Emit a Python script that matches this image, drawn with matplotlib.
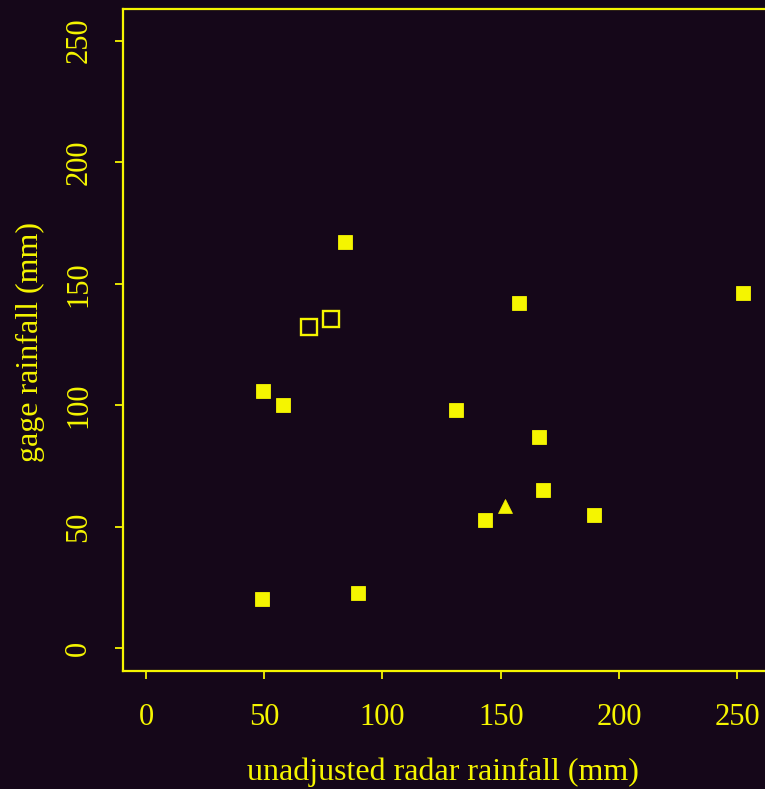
import matplotlib
matplotlib.use("Agg")
import matplotlib.pyplot as plt

# data
filled_x = [49.0, 49.5, 57.9, 89.6, 84.1, 131.3, 157.6, 166.2, 167.7, 143.2, 189.3, 252.6]
filled_y = [20.3, 105.9, 100.1, 22.7, 167.3, 98.1, 142.1, 86.8, 65.1, 52.7, 55.0, 146.1]
open_x = [68.9, 78.2]
open_y = [132.3, 135.5]
tri_x = [152.0]
tri_y = [58.5]
xticks = [0, 50, 100, 150, 200, 250]
yticks = [0, 50, 100, 150, 200, 250]

BG = "#150719"
YEL = "#f5f500"
W, H = 765, 789

fig = plt.figure(figsize=(W / 100, H / 100), dpi=100, facecolor=BG)
ax = fig.add_axes([123 / W, 1 - 670.7 / H, (768 - 123) / W, (670.7 - 9) / H], facecolor=BG)

ax.plot(filled_x, filled_y, ls="none", marker="s", ms=10.5, mfc=YEL, mec=YEL, mew=0.6)
ax.plot(open_x, open_y, ls="none", marker="s", ms=11, mfc="none", mec=YEL, mew=1.7)
ax.plot(tri_x, tri_y, ls="none", marker="^", ms=9.5, mfc=YEL, mec=YEL, mew=0.5)

ax.set_xlim(-9.7, 263)
ax.set_ylim(-9.2, 263)
ax.set_xticks(xticks)
ax.set_yticks(yticks)

font = "Liberation Serif"
for s in ["left", "bottom", "top", "right"]:
    ax.spines[s].set_color(YEL)
    ax.spines[s].set_linewidth(1.6)
ax.tick_params(axis="both", colors=YEL, length=5.5, width=1.3, labelsize=22)
ax.tick_params(axis="x", pad=18)
ax.tick_params(axis="y", pad=16)
for lab in ax.get_xticklabels() + ax.get_yticklabels():
    lab.set_fontfamily(font)
    lab.set_color(YEL)
for lab in ax.get_yticklabels():
    lab.set_rotation(90)
    lab.set_va("center")

fig.text(442.5 / W, 1 - 772 / H, "unadjusted radar rainfall (mm)", color=YEL,
         fontsize=23, family=font, ha="center", va="center")
fig.text(30 / W, 1 - 342 / H, "gage rainfall (mm)", color=YEL,
         fontsize=23, family=font, ha="center", va="center", rotation=90)

fig.savefig("out.png", dpi=100, facecolor=BG)
